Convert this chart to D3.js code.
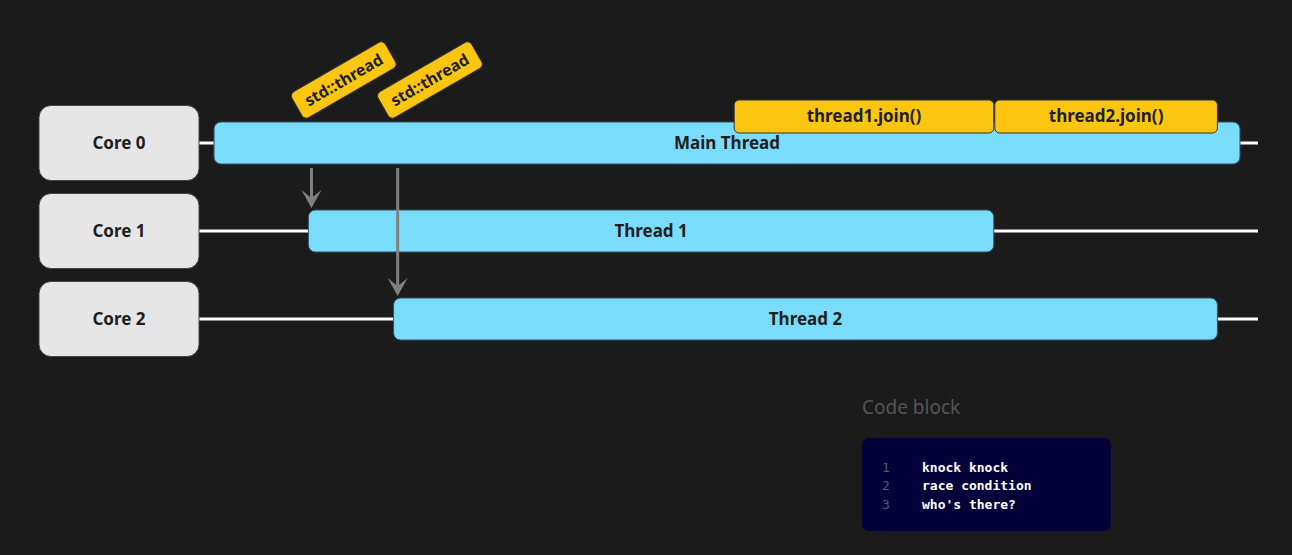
<!DOCTYPE html>
<html><head><meta charset="utf-8">
<script src="https://cdn.jsdelivr.net/npm/d3@7"></script>
<style>body{margin:0;background:#1b1b1b;}</style>
</head><body>
<div id="vis"></div>
<script>
// data: time in arbitrary units, main thread spans 0..100
const cores = ["Core 0", "Core 1", "Core 2"];
const threads = [
    { name: "Main Thread", core: "Core 0", start: 0, end: 100 },
    { name: "Thread 1", core: "Core 1", start: 9.2, end: 76.0 },
    { name: "Thread 2", core: "Core 2", start: 17.5, end: 97.8 }
];
const joins = [
    { name: "thread1.join()", start: 50.7, end: 76.0 },
    { name: "thread2.join()", start: 76.1, end: 97.8 }
];
const spawns = [
    { name: "std::thread", at: 9.5, to: "Core 1" },
    { name: "std::thread", at: 17.9, to: "Core 2" }
];
const codeLines = ["knock knock", "race condition", "who's there?"];

const width = 1292, height = 555;
const svg = d3.select("#vis").append("svg").attr("width", width).attr("height", height);

const x = d3.scaleLinear().domain([0, 100]).range([214, 1240]);
const y = d3.scaleBand().domain(cores).range([99, 363]).paddingInner(0);
const barH = 42;
const font = "'Noto Sans', 'Open Sans', sans-serif";

// core lanes
cores.forEach(c => {
    const cy = y(c) + y.bandwidth() / 2;
    svg.append("line").attr("x1", 199).attr("x2", 1258).attr("y1", cy).attr("y2", cy)
        .attr("stroke", "#fff").attr("stroke-width", 3);
    svg.append("rect").attr("x", 39).attr("y", cy - 37.5).attr("width", 160).attr("height", 75)
        .attr("rx", 12).attr("fill", "#e6e6e6").attr("stroke", "#444");
    svg.append("text").attr("x", 119).attr("y", cy).attr("dy", "0.35em").attr("text-anchor", "middle")
        .style("font-family", font).style("font-weight", "bold").style("font-size", "17px")
        .attr("fill", "#1e1e1e").text(c);
});

// thread bars
threads.forEach(t => {
    const cy = y(t.core) + y.bandwidth() / 2;
    svg.append("rect").attr("x", x(t.start)).attr("y", cy - barH / 2)
        .attr("width", x(t.end) - x(t.start)).attr("height", barH).attr("rx", 7)
        .attr("fill", "#79dcfa").attr("stroke", "#2f5563");
    svg.append("text").attr("x", (x(t.start) + x(t.end)) / 2).attr("y", cy).attr("dy", "0.35em")
        .attr("text-anchor", "middle").style("font-family", font).style("font-weight", "bold")
        .style("font-size", "17px").attr("fill", "#1e1e1e").text(t.name);
});

// join boxes
const mainY = y("Core 0") + y.bandwidth() / 2;
joins.forEach(j => {
    svg.append("rect").attr("x", x(j.start)).attr("y", mainY - 43).attr("width", x(j.end) - x(j.start))
        .attr("height", 33).attr("rx", 5).attr("fill", "#fcc50f").attr("stroke", "#333");
    svg.append("text").attr("x", (x(j.start) + x(j.end)) / 2).attr("y", mainY - 26.5).attr("dy", "0.35em")
        .attr("text-anchor", "middle").style("font-family", font).style("font-weight", "bold")
        .style("font-size", "17px").attr("fill", "#1e1e1e").text(j.name);
});

// spawn arrows and labels
svg.append("defs").append("marker").attr("id", "arr").attr("viewBox", "0 0 10 10")
    .attr("refX", 5).attr("refY", 9).attr("markerWidth", 7).attr("markerHeight", 7)
    .attr("markerUnits", "userSpaceOnUse").attr("orient", "auto")
    .append("path").attr("d", "M0,0 L5,3 L10,0");
spawns.forEach(s => {
    const ax = x(s.at);
    const ty = y(s.to) + y.bandwidth() / 2 - barH / 2 - 2;
    svg.append("line").attr("x1", ax).attr("x2", ax).attr("y1", mainY + barH / 2 + 4).attr("y2", ty - 8)
        .attr("stroke", "#808080").attr("stroke-width", 3);
    svg.append("path").attr("d", `M${ax - 10},${ty - 18} L${ax},${ty} L${ax + 10},${ty - 18} L${ax},${ty - 10} Z`)
        .attr("fill", "#808080");
    const g = svg.append("g").attr("transform", `translate(${ax - 7},${mainY - 23}) rotate(-30)`);
    g.append("rect").attr("x", 0).attr("y", -30).attr("width", 108).attr("height", 30).attr("rx", 5)
        .attr("fill", "#fcc50f").attr("stroke", "#333");
    g.append("text").attr("x", 54).attr("y", -15).attr("dy", "0.35em").attr("text-anchor", "middle")
        .style("font-family", font).style("font-weight", "bold").style("font-size", "16px")
        .attr("fill", "#1e1e1e").text(s.name);
});

// code block
svg.append("text").attr("x", 862).attr("y", 414).style("font-family", font).style("font-size", "19px")
    .attr("fill", "#555").text("Code block");
svg.append("rect").attr("x", 862).attr("y", 438).attr("width", 249).attr("height", 93).attr("rx", 7)
    .attr("fill", "#03003a");
codeLines.forEach((l, i) => {
    const ly = 467 + i * 18.5;
    svg.append("text").attr("x", 882).attr("y", ly).attr("dy", "0.35em").style("font-family", "'DejaVu Sans Mono', monospace")
        .style("font-size", "13px").attr("fill", "#555a7a").text(i + 1);
    svg.append("text").attr("x", 922).attr("y", ly).attr("dy", "0.35em").style("font-family", "'DejaVu Sans Mono', monospace")
        .style("font-size", "13px").style("font-weight", "bold").attr("fill", "#fff").text(l);
});
</script>
</body></html>
